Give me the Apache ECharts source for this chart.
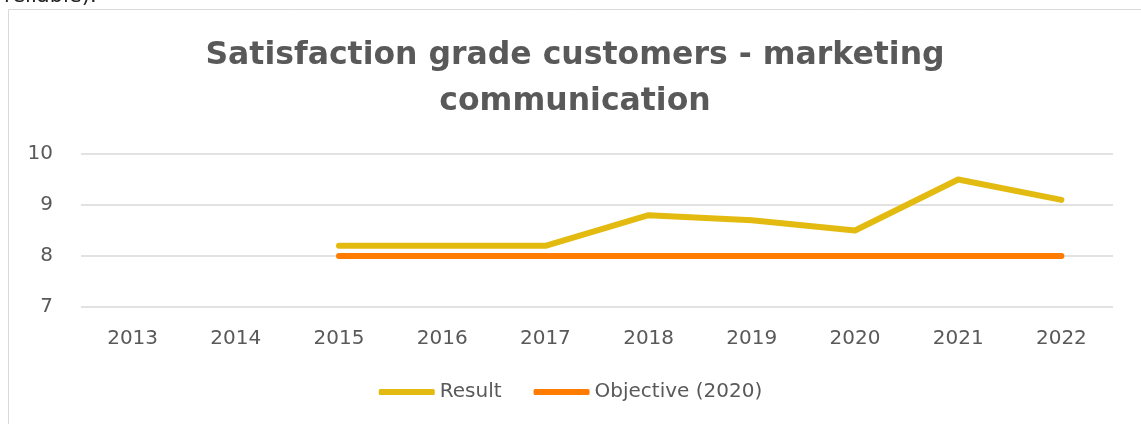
<!DOCTYPE html>
<html>
<head>
<meta charset="utf-8">
<script src="https://cdn.jsdelivr.net/npm/echarts@6/dist/echarts.min.js"></script>
<style>
  html, body { margin: 0; padding: 0; background: #fff; }
  #chart { width: 1141px; height: 424px; }
</style>
</head>
<body>
<div id="chart"></div>
<script>
(function() {
  var years = ['2013', '2014', '2015', '2016', '2017', '2018', '2019', '2020', '2021', '2022'];
  var result = [null, null, 8.2, 8.2, 8.2, 8.8, 8.7, 8.5, 9.5, 9.1];
  var objective = [null, null, 8, 8, 8, 8, 8, 8, 8, 8];
  var yTicks = [7, 8, 9, 10];

  var ink = '#595959';
  var font = 'DejaVu Sans';

  var chart = echarts.init(document.getElementById('chart'), null, { renderer: 'canvas' });
  chart.setOption({
    animation: false,
    textStyle: { fontFamily: font },
    graphic: [
      { type: 'rect', shape: { x: 8.5, y: 9.5, width: 1160, height: 440 },
        style: { fill: 'none', stroke: '#d9d9d9', lineWidth: 1 }, z: -1 },
      { type: 'text', left: 4, top: -14,
        style: { text: 'reliable).', fontSize: 21, fill: '#222', fontFamily: font } },
      // title, centred line by line
      { type: 'text', x: 575, y: 33,
        style: { text: 'Satisfaction grade customers - marketing\ncommunication',
          align: 'center', fontSize: 31.5, fontWeight: 'bold', lineHeight: 46,
          fill: ink, fontFamily: font } }
    ],
    legend: {
      top: 377,
      left: 'center',
      itemWidth: 56,
      itemHeight: 6,
      itemGap: 32,
      icon: 'roundRect',
      textStyle: { color: ink, fontSize: 20, fontFamily: font },
      data: ['Result', 'Objective (2020)']
    },
    grid: { left: 81, width: 1032, top: 154, height: 153 },
    xAxis: {
      type: 'category',
      data: years,
      boundaryGap: true,
      axisLine: { show: false },
      axisTick: { show: false },
      axisLabel: { color: ink, fontSize: 20, margin: 22, fontFamily: font }
    },
    yAxis: {
      type: 'value',
      min: yTicks[0],
      max: yTicks[yTicks.length - 1],
      interval: 1,
      axisLine: { show: false },
      axisTick: { show: false },
      axisLabel: { color: ink, fontSize: 20, margin: 28, fontFamily: font },
      splitLine: { lineStyle: { color: '#d9d9d9', width: 1.5 } }
    },
    series: [
      {
        name: 'Result',
        type: 'line',
        data: result,
        symbol: 'none',
        lineStyle: { color: '#e3ba10', width: 6, cap: 'round', join: 'round' },
        itemStyle: { color: '#e3ba10' }
      },
      {
        name: 'Objective (2020)',
        type: 'line',
        data: objective,
        symbol: 'none',
        lineStyle: { color: '#ff7c00', width: 6, cap: 'round', join: 'round' },
        itemStyle: { color: '#ff7c00' }
      }
    ]
  });
  window.addEventListener('resize', function() { chart.resize(); });
})();
</script>
</body>
</html>
